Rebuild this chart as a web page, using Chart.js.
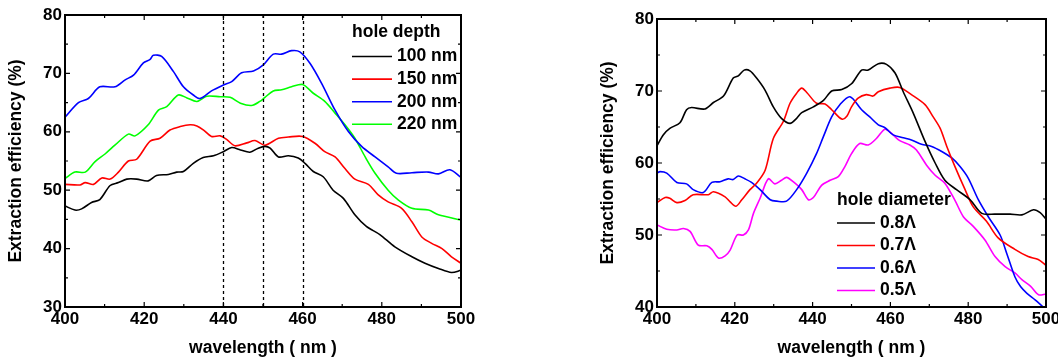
<!DOCTYPE html>
<html>
<head>
<meta charset="utf-8">
<script src="https://cdn.jsdelivr.net/npm/chart.js@4.4.0/dist/chart.umd.min.js"></script>
<style>
  html, body { margin: 0; padding: 0; background: #fff; overflow: hidden; width: 1058px; height: 360px; }
  #left { position: absolute; left: 0; top: 0; width: 530px; height: 360px; }
  #right { position: absolute; left: 530px; top: 0; width: 545px; height: 360px; }
</style>
</head>
<body>
<div id="left"><canvas id="depthChart"></canvas></div>
<div id="right"><canvas id="diameterChart"></canvas></div>
<script>
// axis ticks
const xTicks = [400, 420, 440, 460, 480, 500];
const xMinor = [410, 430, 450, 470, 490];
const yTicksDepth = [30, 40, 50, 60, 70, 80];
const yMinorDepth = [35, 45, 55, 65, 75];
const yTicksDiam = [40, 50, 60, 70, 80];
const yMinorDiam = [45, 55, 65, 75];
const markerLines = [440, 450, 460];

// left panel: hole depth
const depthLabels = ['100 nm', '150 nm', '200 nm', '220 nm'];
const depth100X = [400, 402.5, 404.2, 406.7, 408.8, 411.4, 413.5, 415.6, 418.1, 421, 423.1, 426.1, 428.2, 429.9, 432.4, 434.9, 437.5, 440, 442.1, 444.3, 446.7, 448.8, 450.5, 451.8, 453.9, 456.4, 458.9, 460.6, 462.7, 465.2, 467.7, 470.3, 473.2, 476.1, 479.5, 483.3, 487.6, 490.9, 494.3, 497.6, 500];
const depth100Y = [47.3, 46.6, 46.8, 47.9, 48.4, 50.8, 51.3, 51.9, 51.9, 51.6, 52.5, 52.7, 53.1, 53.2, 54.6, 55.6, 55.9, 56.6, 57.3, 56.9, 56.5, 57.2, 57.5, 57.2, 55.7, 55.9, 55.5, 54.6, 53.2, 52.3, 50.0, 48.6, 45.8, 43.8, 42.4, 40.3, 38.6, 37.5, 36.6, 35.9, 36.3];
const depth150X = [400, 403.8, 405.1, 407.2, 409.3, 411.4, 413.5, 416, 418.1, 421.5, 424, 426.5, 429.1, 431.6, 433.3, 435, 437, 439.2, 440.8, 442.9, 445.9, 448, 450.5, 453.9, 456.4, 460, 463.2, 465.6, 468.2, 470.7, 473.2, 476.6, 479.1, 481.6, 485, 487.6, 490.1, 492.6, 495.2, 497.6, 500];
const depth150Y = [51.0, 50.9, 51.3, 51.0, 52.1, 51.9, 53.1, 55.0, 55.3, 58.4, 58.9, 60.3, 60.9, 61.2, 61.0, 60.3, 59.2, 59.3, 58.7, 57.6, 58.1, 58.5, 57.7, 58.9, 59.1, 59.2, 58.0, 56.6, 55.7, 53.7, 51.9, 51.0, 49.2, 48.0, 46.9, 44.6, 42.0, 40.9, 40.0, 38.6, 37.5];
const depth200X = [400, 403.4, 405.9, 408.8, 412.6, 415.2, 417.3, 419.8, 421.5, 422.3, 424.4, 427.4, 429.9, 432.4, 434.1, 437, 440, 442.1, 444.6, 447.6, 450, 452.6, 454.7, 457.2, 459.3, 461.9, 464.8, 468.2, 471.6, 474.9, 478.3, 481.6, 483.7, 487.6, 491.8, 494.3, 497.2, 500];
const depth200Y = [62.5, 65.0, 65.7, 67.7, 67.7, 68.9, 69.7, 71.8, 72.4, 73.1, 72.9, 70.3, 67.7, 66.3, 65.7, 67.0, 68.0, 68.6, 70.1, 70.4, 71.4, 73.3, 73.3, 73.9, 73.7, 71.7, 68.3, 63.7, 60.0, 57.5, 55.7, 54.0, 52.9, 53.0, 53.1, 52.8, 53.5, 52.2];
const depth220X = [400, 402.5, 405.1, 407.6, 410.1, 412.6, 416, 417.7, 421, 423.6, 425.7, 428.6, 430.8, 433.3, 435.8, 439.2, 441.7, 444.3, 447.1, 449.2, 450.5, 452.6, 454.7, 457.2, 460, 462.7, 465.6, 468.2, 470.7, 473.2, 475.8, 478.3, 481.6, 484.2, 487.6, 491.8, 494.3, 500];
const depth220Y = [52.0, 53.1, 53.1, 54.9, 56.2, 57.7, 59.6, 59.3, 61.2, 63.7, 64.3, 66.3, 65.8, 65.2, 66.1, 66.0, 65.9, 64.9, 64.5, 65.2, 65.9, 67.0, 67.2, 67.7, 68.1, 66.6, 65.2, 63.2, 61.2, 58.9, 55.7, 52.9, 50.0, 48.3, 46.9, 46.6, 45.8, 44.9];

// right panel: hole diameter
const diamLabels = ['0.8\u039B', '0.7\u039B', '0.6\u039B', '0.5\u039B'];
const diam08X = [400, 401.6, 403.3, 405.9, 407.6, 408.9, 412.3, 414.5, 417.1, 419.6, 420.9, 422.4, 423.9, 425.6, 427.8, 429.9, 432, 434.2, 435.9, 437.2, 440.2, 442.8, 444.9, 447.5, 450, 452.6, 454.3, 456.9, 459, 461.2, 463.3, 465.9, 468.9, 471.5, 474, 477, 480.5, 483.5, 486.9, 490.8, 493.8, 496.8, 498.5, 500];
const diam08Y = [62.4, 63.9, 64.8, 65.6, 67.4, 67.7, 67.5, 68.4, 69.3, 71.8, 72.1, 72.9, 72.8, 71.8, 70.1, 67.8, 66.2, 65.5, 66.2, 67.0, 67.8, 68.7, 70.0, 70.2, 71.0, 72.9, 72.9, 73.8, 73.7, 72.5, 69.9, 66.9, 63.0, 60.0, 57.6, 56.3, 54.9, 53.0, 52.9, 52.9, 52.8, 53.5, 53.1, 52.2];
const diam07X = [400, 402.1, 403.3, 405.1, 407.2, 409.3, 413.2, 414.5, 417.5, 418.8, 420.3, 421.8, 423.9, 425.6, 427.8, 429.9, 432.5, 434.2, 435.9, 437.2, 438.5, 441, 443.2, 444.9, 447.5, 448.8, 450, 451.7, 453.8, 455.5, 456.9, 459.9, 462.4, 465.4, 468.9, 471, 472.8, 474.5, 476.6, 479.2, 481.3, 484.7, 487.7, 492, 495.4, 498, 500];
const diam07Y = [54.5, 55.2, 55.1, 54.5, 54.8, 55.6, 55.6, 56.0, 55.3, 54.6, 54.0, 54.9, 56.3, 57.2, 59.0, 63.4, 65.8, 68.3, 69.7, 70.4, 69.8, 68.3, 68.2, 67.4, 66.1, 66.5, 67.8, 69.0, 69.5, 69.3, 69.9, 70.4, 70.5, 69.5, 68.1, 66.4, 64.8, 62.3, 59.5, 56.3, 53.9, 51.9, 49.6, 48.0, 47.0, 46.6, 45.8];
const diam06X = [400, 400.8, 402.5, 405.1, 407.6, 409.3, 411.9, 414.1, 416.2, 418.3, 419.6, 420.9, 422.6, 424.3, 426.5, 429.1, 430.8, 433.3, 435.9, 438.5, 441, 442.8, 444.9, 447, 449.6, 452.6, 454.7, 456.9, 458.6, 460.7, 463.3, 465.4, 468, 470.6, 473.2, 475.8, 477.9, 480, 482.6, 485.2, 488.2, 490, 492, 493.5, 495.1, 497.2, 499.3, 500];
const diam06Y = [58.6, 58.8, 58.6, 57.3, 57.1, 56.3, 55.9, 57.3, 57.4, 57.8, 57.7, 58.2, 57.8, 57.3, 56.3, 54.9, 54.7, 54.7, 56.3, 58.6, 61.3, 63.7, 66.4, 68.1, 69.2, 67.4, 66.4, 65.3, 64.9, 63.9, 63.5, 63.2, 62.6, 62.3, 61.6, 60.7, 59.5, 57.9, 54.9, 52.5, 50.0, 47.3, 44.2, 42.8, 41.9, 41.0, 40.0, 39.7];
const diam05X = [400, 402.5, 405.1, 406.8, 408.5, 410.6, 412.8, 414.1, 415.8, 417.5, 418.8, 420.6, 422.2, 423.5, 424.8, 426.5, 428.6, 430.3, 432, 433.3, 435, 437.2, 438.9, 440.2, 442.3, 444.5, 446.6, 448.3, 450, 452.1, 454.3, 456.4, 458.6, 460.3, 462.4, 465, 466.7, 469.3, 471.5, 474, 476.6, 478.8, 481.3, 484.3, 486.9, 489.5, 492.1, 493.8, 496, 498.1, 500];
const diam05Y = [51.4, 50.8, 50.7, 50.9, 50.5, 48.6, 48.5, 48.0, 46.8, 47.1, 47.9, 50.0, 50.0, 50.7, 53.0, 55.1, 57.8, 57.1, 57.6, 58.0, 57.4, 56.3, 54.9, 55.2, 56.9, 57.6, 58.1, 59.5, 61.3, 62.7, 62.5, 63.4, 64.7, 64.1, 63.1, 62.5, 61.8, 59.7, 58.3, 57.2, 54.8, 52.5, 51.2, 49.3, 47.0, 45.6, 44.7, 43.8, 42.9, 41.7, 41.8];

const fontFamily = '"Liberation Sans", Arial, sans-serif';
const tickFont = { family: fontFamily, size: 17, weight: 'bold' };
const titleFont = { family: fontFamily, size: 17.5, weight: 'bold' };

function zip(xs, ys) {
  return xs.map((x, i) => ({ x: x, y: ys[i] }));
}

function series(label, xs, ys, color) {
  return {
    label: label,
    data: zip(xs, ys),
    borderColor: color,
    backgroundColor: color,
    borderWidth: 1.6,
    pointRadius: 0,
    tension: 0.3,
    fill: false
  };
}

// frame, inward ticks, dashed markers and the in-plot legend
const framePlugin = {
  id: 'frame',
  afterDatasetsDraw(chart, args, opts) {
    const ctx = chart.ctx;
    const a = chart.chartArea;
    const xs = chart.scales.x, ys = chart.scales.y;
    ctx.save();
    ctx.strokeStyle = '#000';

    // dashed reference lines
    if (opts.markers) {
      ctx.lineWidth = 1.3;
      ctx.setLineDash([3, 3]);
      opts.markers.forEach(v => {
        const px = Math.round(xs.getPixelForValue(v)) + 0.5;
        ctx.beginPath();
        ctx.moveTo(px, a.top);
        ctx.lineTo(px, a.bottom);
        ctx.stroke();
      });
      ctx.setLineDash([]);
    }

    // ticks on all four sides, pointing inwards
    ctx.lineWidth = 1.2;
    const tickX = (vals, len) => vals.forEach(v => {
      const px = xs.getPixelForValue(v);
      ctx.beginPath();
      ctx.moveTo(px, a.bottom); ctx.lineTo(px, a.bottom - len);
      ctx.moveTo(px, a.top); ctx.lineTo(px, a.top + len);
      ctx.stroke();
    });
    const tickY = (vals, len) => vals.forEach(v => {
      const py = ys.getPixelForValue(v);
      ctx.beginPath();
      ctx.moveTo(a.left, py); ctx.lineTo(a.left + len, py);
      ctx.moveTo(a.right, py); ctx.lineTo(a.right - len, py);
      ctx.stroke();
    });
    tickX(xTicks, 5); tickX(xMinor, 3);
    tickY(opts.yMajor, 5); tickY(opts.yMinor, 3);

    ctx.lineWidth = 2;
    ctx.strokeRect(a.left, a.top, a.right - a.left, a.bottom - a.top);

    // legend
    const lg = opts.legend;
    ctx.font = 'bold 17.5px ' + fontFamily;
    ctx.fillStyle = '#000';
    ctx.textBaseline = 'middle';
    ctx.textAlign = 'left';
    ctx.fillText(lg.title, lg.x, lg.y);
    chart.data.datasets.forEach((ds, i) => {
      const y = lg.y + lg.firstGap + i * lg.rowH;
      ctx.strokeStyle = ds.borderColor;
      ctx.lineWidth = 1.6;
      ctx.beginPath();
      ctx.moveTo(lg.x, y);
      ctx.lineTo(lg.x + lg.lineLen, y);
      ctx.stroke();
      ctx.fillText(ds.label, lg.x + lg.lineLen + 5, y);
    });
    ctx.restore();
  }
};

function makeOptions(yMin, yMax, yMajor, yMinor, padding, frameOpts) {
  return {
    responsive: true,
    maintainAspectRatio: false,
    animation: false,
    layout: { padding: padding },
    plugins: {
      legend: { display: false },
      tooltip: { enabled: false },
      frame: Object.assign({ yMajor: yMajor, yMinor: yMinor }, frameOpts)
    },
    scales: {
      x: {
        type: 'linear', min: 400, max: 500,
        afterBuildTicks: s => { s.ticks = xTicks.map(v => ({ value: v })); },
        afterFit: s => { s.height = 53; },
        grid: { display: false, drawTicks: false },
        border: { display: false },
        ticks: { color: '#000', font: tickFont, padding: 2, maxRotation: 0, autoSkip: false },
        title: { display: true, text: 'wavelength ( nm )', color: '#000', font: titleFont, padding: { top: 0, bottom: 1 } }
      },
      y: {
        type: 'linear', min: yMin, max: yMax,
        afterBuildTicks: s => { s.ticks = yMajor.map(v => ({ value: v })); },
        afterFit: s => { s.width = 65; },
        grid: { display: false, drawTicks: false },
        border: { display: false },
        ticks: { color: '#000', font: tickFont, padding: 3, autoSkip: false },
        title: { display: true, text: 'Extraction efficiency (%)', color: '#000', font: titleFont, padding: { top: 6, bottom: 0 } }
      }
    }
  };
}

new Chart(document.getElementById('depthChart'), {
  type: 'line',
  data: {
    datasets: [
      series(depthLabels[0], depth100X, depth100Y, '#000000'),
      series(depthLabels[1], depth150X, depth150Y, '#ff0000'),
      series(depthLabels[2], depth200X, depth200Y, '#0000ff'),
      series(depthLabels[3], depth220X, depth220Y, '#00ff00')
    ]
  },
  options: makeOptions(30, 80, yTicksDepth, yMinorDepth,
    { left: 0, top: 15, right: 69, bottom: 0 },
    { markers: markerLines, legend: { title: 'hole depth', x: 352, y: 32, firstGap: 24.5, rowH: 22.6, lineLen: 40 } }),
  plugins: [framePlugin]
});

new Chart(document.getElementById('diameterChart'), {
  type: 'line',
  data: {
    datasets: [
      series(diamLabels[0], diam08X, diam08Y, '#000000'),
      series(diamLabels[1], diam07X, diam07Y, '#ff0000'),
      series(diamLabels[2], diam06X, diam06Y, '#0000ff'),
      series(diamLabels[3], diam05X, diam05Y, '#ff00ff')
    ]
  },
  options: makeOptions(40, 80, yTicksDiam, yMinorDiam,
    { left: 62, top: 19, right: 29, bottom: 0 },
    { legend: { title: 'hole diameter', x: 307, y: 200, firstGap: 23, rowH: 22.5, lineLen: 38 } }),
  plugins: [framePlugin]
});
</script>
</body>
</html>
